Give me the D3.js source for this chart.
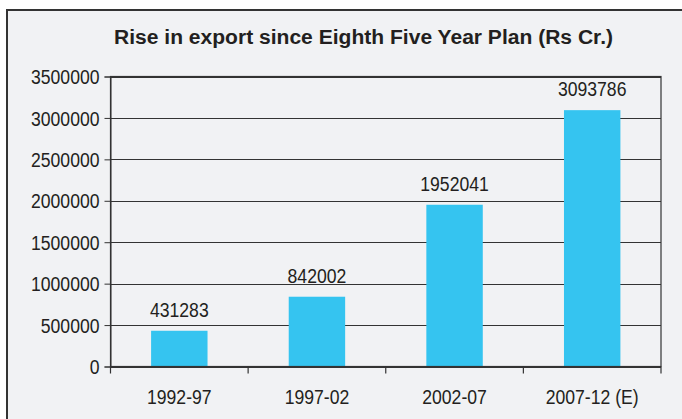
<!DOCTYPE html>
<html><head><meta charset="utf-8">
<script src="https://cdn.jsdelivr.net/npm/d3@7"></script>
<style>html,body{margin:0;padding:0;background:#fff;}svg{display:block;}</style>
</head><body>
<script>
const categories = ["1992-97", "1997-02", "2002-07", "2007-12 (E)"];
const values = [431283, 842002, 1952041, 3093786];
const yTicks = [0, 500000, 1000000, 1500000, 2000000, 2500000, 3000000, 3500000];
const title = "Rise in export since Eighth Five Year Plan (Rs Cr.)";

const W = 682, H = 419;
const svg = d3.select("body").append("svg").attr("width", W).attr("height", H);
svg.append("rect").attr("x", 0).attr("y", 0).attr("width", W).attr("height", H).attr("fill", "#fff");
svg.append("rect").attr("x", 7).attr("y", 10).attr("width", W + 10).attr("height", H + 10)
  .attr("fill", "#f1f2f4").attr("stroke", "#333").attr("stroke-width", 2);

const m = {left: 110.5, right: 661, top: 76.5, bottom: 366.5};
const x = d3.scaleBand().domain(categories).range([m.left, m.right]).paddingInner(0.59).paddingOuter(0.295);
const y = d3.scaleLinear().domain([0, 3500000]).range([m.bottom, m.top]);
const textColor = "#231f20";
const font = "Liberation Sans, Arial, sans-serif";
const FS = 20, SQ = 0.88;

function squeeze(sel) {
  sel.each(function() {
    const w = this.getComputedTextLength();
    d3.select(this).attr("textLength", w * SQ).attr("lengthAdjust", "spacingAndGlyphs");
  });
}

svg.append("text").attr("x", 363.5).attr("y", 44).attr("text-anchor", "middle")
  .attr("font-family", font).attr("font-weight", "bold").attr("font-size", 20)
  .attr("fill", textColor).attr("textLength", 499).attr("lengthAdjust", "spacingAndGlyphs").text(title);

// gridlines
svg.append("g").selectAll("line").data(yTicks).join("line")
  .attr("x1", m.left).attr("x2", m.right)
  .attr("y1", d => Math.round(y(d)) + 0.5).attr("y2", d => Math.round(y(d)) + 0.5)
  .attr("stroke", "#333").attr("stroke-width", 1);

// bars
svg.append("g").selectAll("rect").data(values).join("rect")
  .attr("x", (d, i) => x(categories[i])).attr("width", x.bandwidth())
  .attr("y", d => y(d)).attr("height", d => y(0) - y(d)).attr("fill", "#35c4f0");

// plot frame
svg.append("rect").attr("x", m.left).attr("y", m.top).attr("width", m.right - m.left).attr("height", m.bottom - m.top)
  .attr("fill", "none").attr("stroke", "#333").attr("stroke-width", 1.2);

// y axis
const yAxis = svg.append("g").attr("transform", `translate(${m.left},0)`)
  .call(d3.axisLeft(y).tickValues(yTicks).tickSize(6).tickPadding(5).tickFormat(d3.format("d")));
yAxis.select(".domain").attr("stroke", "#333");
yAxis.selectAll(".tick line").attr("stroke", "#333");
yAxis.selectAll("text").attr("font-family", font).attr("font-size", FS).attr("fill", textColor)
  .attr("dy", "0.36em").call(squeeze);

// x axis ticks at band boundaries
const bounds = categories.map(c => x(c) - x.step() * x.paddingInner() / 2);
bounds.push(m.right);
svg.append("g").selectAll("line").data(bounds).join("line")
  .attr("x1", d => d).attr("x2", d => d).attr("y1", m.bottom).attr("y2", m.bottom + 7)
  .attr("stroke", "#333").attr("stroke-width", 1.2);
svg.append("g").selectAll("text").data(categories).join("text")
  .attr("x", d => x(d) + x.bandwidth() / 2).attr("y", 404).attr("text-anchor", "middle")
  .attr("font-family", font).attr("font-size", FS).attr("fill", textColor).text(d => d).call(squeeze);

// value labels
svg.append("g").selectAll("text").data(values).join("text")
  .attr("x", (d, i) => x(categories[i]) + x.bandwidth() / 2).attr("y", d => y(d) - 14)
  .attr("text-anchor", "middle").attr("font-family", font).attr("font-size", FS)
  .attr("fill", textColor).text(d => d).call(squeeze);
</script>
</body></html>
